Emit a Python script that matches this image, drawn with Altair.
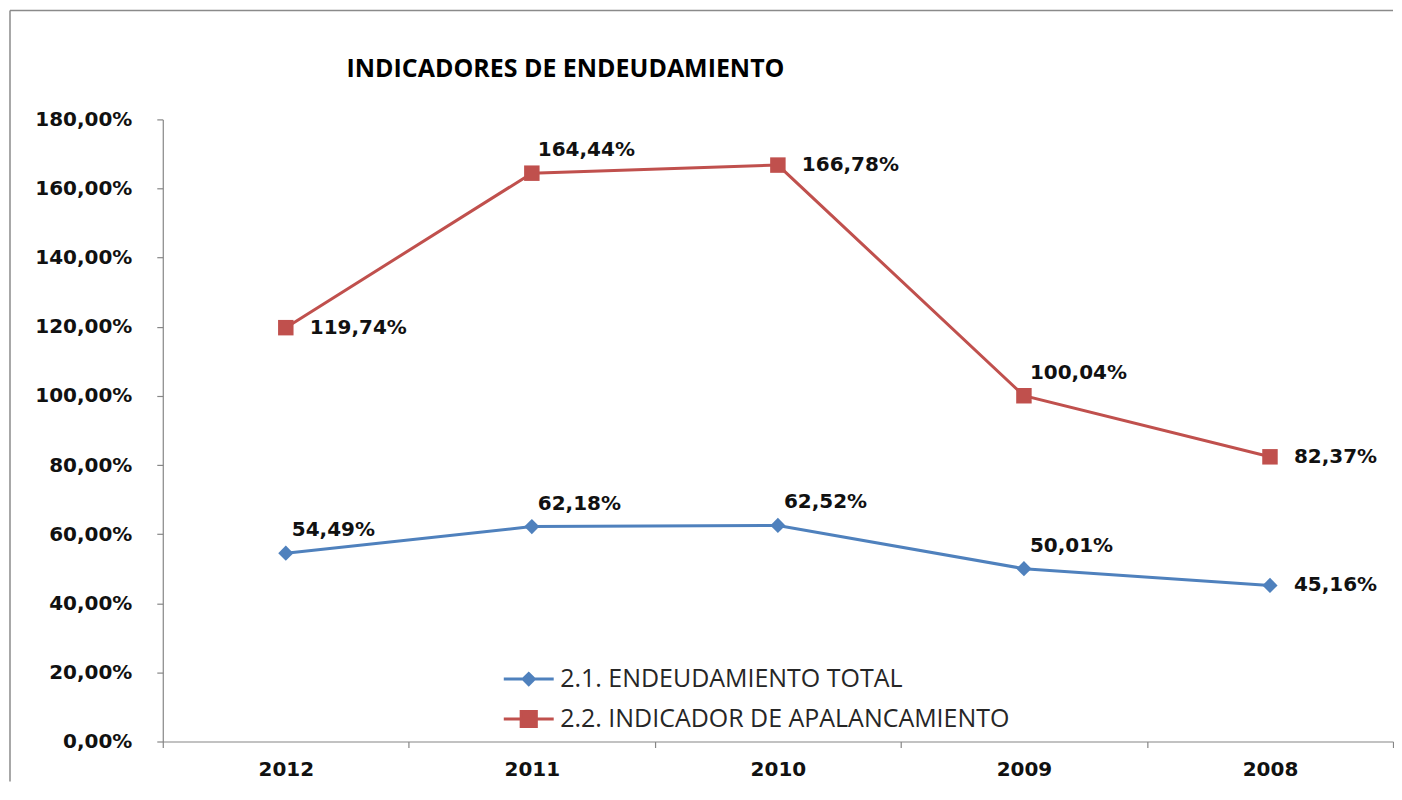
import altair as alt
import pandas as pd

# ---- data ----
years = ["2012", "2011", "2010", "2009", "2008"]
series_names = ["2.1. ENDEUDAMIENTO TOTAL", "2.2. INDICADOR DE APALANCAMIENTO"]
endeudamiento_total = [54.49, 62.18, 62.52, 50.01, 45.16]
indicador_apalancamiento = [119.74, 164.44, 166.78, 100.04, 82.37]
y_ticks = [0, 20, 40, 60, 80, 100, 120, 140, 160, 180]
title_text = "INDICADORES DE ENDEUDAMIENTO"

# label placement (Excel-like) per point
place_total = ["above", "above", "above", "above", "right"]
place_apal = ["right", "above", "right", "above", "right"]

# ---- styles ----
colors = ["#4F81BD", "#C0504D"]
marker_shapes = ["diamond", "square"]
marker_sizes = [230, 240]
legend_paths = [
    "M-1.25,0H1.25M0,-0.28L0.28,0L0,0.28L-0.28,0Z",
    "M-1.25,0H1.25M-0.38,-0.38H0.38V0.38H-0.38Z",
]
W, H = 1232, 623

rows = []
for s, vals, places in [(series_names[0], endeudamiento_total, place_total),
                        (series_names[1], indicador_apalancamiento, place_apal)]:
    for yr, v, p in zip(years, vals, places):
        rows.append({"year": yr, "series": s, "value": v, "place": p})
df = pd.DataFrame(rows)
one = pd.DataFrame({"k": [0]})

axis_color = "#868686"
x_enc = alt.X(
    "year:N", sort=years,
    scale=alt.Scale(type="band", paddingInner=0, paddingOuter=0),
    bandPosition=0.5,
    axis=alt.Axis(title=None, tickBand="extent", labelAngle=0, labelFont="DejaVu Sans",
                  labelFontWeight="bold", labelFontSize=20, labelColor="#111111",
                  labelPadding=12, tickSize=6, domainColor=axis_color, tickColor=axis_color,
                  grid=False, domainWidth=1.2, tickWidth=1.2),
)
y_enc = alt.Y(
    "value:Q",
    scale=alt.Scale(domain=[0, 180], nice=False, zero=True),
    axis=alt.Axis(values=y_ticks, title=None,
                  labelExpr="replace(format(datum.value, '.2f'), '.', ',') + '%'",
                  labelFont="DejaVu Sans", labelFontWeight="bold", labelFontSize=20,
                  labelColor="#111111", labelPadding=25, tickSize=6,
                  domainColor=axis_color, tickColor=axis_color, grid=False,
                  domainWidth=1.2, tickWidth=1.2),
)

base = alt.Chart(df).encode(x=x_enc, y=y_enc)

# frame (left and top edges of the chart area)
frame_left = alt.Chart(one).mark_rule(color="#8a8a8a", strokeWidth=1.5).encode(
    x=alt.value(-153), y=alt.value(-109), y2=alt.value(H + 40))
frame_top = alt.Chart(one).mark_rule(color="#8a8a8a", strokeWidth=1.5).encode(
    x=alt.value(-153), x2=alt.value(W), y=alt.value(-109))

title = alt.Chart(one).mark_text(
    text=title_text, font="Open Sans", fontSize=25, fontWeight="bold",
    align="left", baseline="middle", color="#000000").encode(
    x=alt.value(184), y=alt.value(-50))

series_layers = []
for i, (s, c, shp, sz, path) in enumerate(zip(series_names, colors, marker_shapes,
                                               marker_sizes, legend_paths)):
    sub = base.transform_filter(alt.datum.series == s)
    leg = alt.Legend(orient="none", legendX=345, legendY=539 + 40 * i, title=None,
                     symbolType=path, symbolSize=1600, symbolStrokeWidth=3,
                     symbolFillColor=c, labelFont="Open Sans", labelFontSize=25,
                     labelColor="#262626", labelOffset=10, labelLimit=1000,
                     padding=0, rowPadding=0)
    line = sub.mark_line(strokeWidth=3).encode(
        color=alt.Color("series:N", scale=alt.Scale(domain=[s], range=[c]), legend=leg))
    pts = sub.mark_point(filled=True, opacity=1, shape=shp, size=sz, color=c)
    series_layers.append(alt.layer(line, pts))

lbl = "replace(format(datum.value, '.2f'), '.', ',') + '%'"
text_common = dict(font="DejaVu Sans", fontWeight="bold", fontSize=20,
                   color="#111111", align="left", baseline="middle")
labels_right = base.transform_filter(alt.datum.place == "right").transform_calculate(
    lbl=lbl).mark_text(dx=24, dy=0, **text_common).encode(text="lbl:N")
labels_above = base.transform_filter(alt.datum.place == "above").transform_calculate(
    lbl=lbl).mark_text(dx=6, dy=-23, **text_common).encode(text="lbl:N")

chart = alt.layer(
    frame_left, frame_top, title, *series_layers, labels_right, labels_above
).resolve_scale(color="independent").properties(
    width=W, height=H, padding={"left": 1, "top": 1, "right": 0, "bottom": 0}
).configure(background="#ffffff").configure_view(stroke=None)

chart.save("out.html", embed_options={"renderer": "svg", "actions": False})
